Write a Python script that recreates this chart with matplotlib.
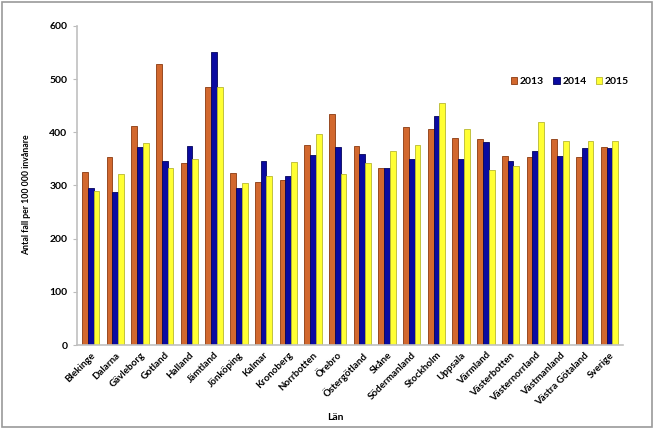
import matplotlib
matplotlib.use("Agg")
import matplotlib.pyplot as plt
import numpy as np
from matplotlib.patches import Rectangle

plt.rcParams['font.family'] = ['Lato', 'DejaVu Sans']

lan = ["Blekinge", "Dalarna", "Gävleborg", "Gotland", "Halland", "Jämtland",
       "Jönköping", "Kalmar", "Kronoberg", "Norrbotten", "Örebro", "Östergötland",
       "Skåne", "Södermanland", "Stockholm", "Uppsala", "Värmland", "Västerbotten",
       "Västernorrland", "Västmanland", "Västra Götaland", "Sverige"]
v2013 = [326, 353, 411, 528, 342, 485, 323, 306, 311, 377, 434, 374,
         333, 410, 407, 389, 387, 355, 353, 387, 354, 372]
v2014 = [295, 288, 372, 347, 374, 552, 295, 347, 318, 357, 372, 359,
         333, 350, 431, 350, 382, 347, 364, 355, 371, 371]
v2015 = [290, 322, 379, 333, 349, 485, 304, 317, 344, 397, 322, 343,
         364, 377, 455, 407, 329, 337, 419, 384, 384, 384]
years = ["2013", "2014", "2015"]

fig = plt.figure(figsize=(6.56, 4.29), dpi=100)
fig.patches.append(Rectangle((0.003, 0.005), 0.991, 0.99, transform=fig.transFigure,
                             fill=False, edgecolor='#9a9a9a', linewidth=1.2))
ax = fig.add_axes([0.1174, 0.1958, 0.8323, 0.7436])

x = np.arange(len(lan))
w = 0.235
colors = ['#D2682E', '#0A0AA0', '#FFFF33']
edges = ['#8B3A10', '#05055A', '#B8B830']
for i, (vals, c, e, y) in enumerate(zip([v2013, v2014, v2015], colors, edges, years)):
    ax.bar(x + (i - 1) * w, vals, width=w, color=c, edgecolor=e, linewidth=0.6, label=y)

ax.set_xlim(-0.55, len(lan) - 0.45)
ax.set_ylim(0, 600)
ax.set_yticks(range(0, 601, 100))
ax.set_xticks(x)
ax.set_xticklabels(lan, rotation=45, ha='right', rotation_mode='anchor',
                   fontsize=7, fontweight='bold')
for lbl in ax.get_yticklabels():
    lbl.set_fontsize(7.5)
    lbl.set_fontweight('bold')
ax.tick_params(axis='x', length=0, pad=4)
ax.tick_params(axis='y', length=3, color='#bbbbbb', pad=4)
for s in ['top', 'right']:
    ax.spines[s].set_visible(False)
for s in ['left', 'bottom']:
    ax.spines[s].set_color('#c0c0c0')
    ax.spines[s].set_linewidth(1.2)

ax.set_ylabel("Antal fall per 100 000 invånare", fontsize=6.3, fontweight='bold')
ax.yaxis.set_label_coords(-0.085, 0.47)
fig.text(0.512, 0.026, "Län", fontsize=7.5, fontweight='bold', ha='center', va='center')

leg = ax.legend(loc='center left', bbox_to_anchor=(0.795, 0.825), ncol=3, frameon=False,
                fontsize=7.5, handlelength=0.6, handleheight=0.6, handletextpad=0.25,
                columnspacing=0.9, borderpad=0, borderaxespad=0)
for t in leg.get_texts():
    t.set_fontweight('bold')

fig.savefig("out.png", dpi=100)
